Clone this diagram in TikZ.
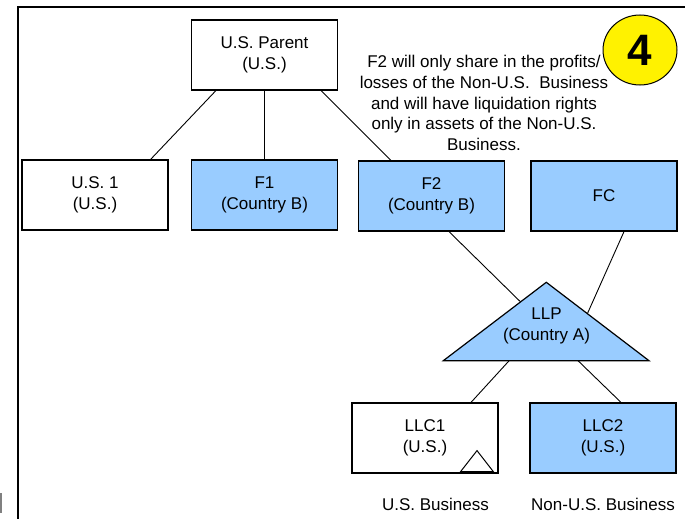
\documentclass[tikz,border=0pt]{standalone}
\usepackage{fontspec}
\setmainfont{Liberation Sans}
\usetikzlibrary{calc,shapes.geometric}
\definecolor{entblue}{RGB}{153,204,255}
\frenchspacing
\begin{document}
\begin{tikzpicture}[x=1pt,y=-1pt,
  ent/.style={draw=black, line width=1.2pt, minimum width=146pt, minimum height=70pt,
    inner sep=0pt, align=center, font=\fontsize{17}{21}\selectfont},
  wbox/.style={ent, fill=white},
  bbox/.style={ent, fill=entblue},
  link/.style={draw=black, line width=0.9pt},
  lbl/.style={inner sep=0pt, align=center, font=\fontsize{17}{21}\selectfont},
]
\useasboundingbox (0,0) rectangle (685,519);
\fill[white] (0,0) rectangle (685,519);

% frame
\draw[line width=2pt, line join=miter] (17.5,530) -- (17.5,7) -- (700,7);
\draw[gray, line width=1.5pt] (1,493) -- (1,513);

% entities
\node[wbox] (par) at (264.5,55) {U.S. Parent\\(U.S.)};
\node[wbox] (us1) at (95,195) {U.S. 1\\(U.S.)};
\node[bbox] (f1) at (264.5,195) {F1\\(Country B)};
\node[bbox] (f2) at (431.5,196) {F2\\(Country B)};
\node[bbox] (fc) at (604,196) {FC};
\node[wbox] (llc1) at (425,438) {LLC1\\(U.S.)};
\node[bbox] (llc2) at (603,438) {LLC2\\(U.S.)};

% LLP triangle
\coordinate (tA) at (546.3,282.3);
\coordinate (tL) at (443.3,360.7);
\coordinate (tR) at (649,360.7);
\draw[line width=1.2pt, fill=entblue, line join=miter] (tA) -- (tL) -- (tR) -- cycle;
\node[lbl] (llp) at (546.5,326) {LLP\\(Country A)};

% connectors
\draw[link] ([xshift=25pt]par.south west) -- ([xshift=-18pt]us1.north east);
\draw[link] (par.south) -- (f1.north);
\draw[link] ([xshift=-17pt]par.south east) -- ([xshift=33pt]f2.north west);
\draw[link] ([xshift=17.5pt]f2.south) -- ($(tA)!0.25!(tL)$);
\draw[link] ([xshift=20pt]fc.south) -- ($(tA)!0.4!(tR)$);
\draw[link] ($(tL)!0.32!(tR)$) -- ([xshift=46pt]llc1.north);
\draw[link] ($(tL)!0.655!(tR)$) -- ([xshift=18pt]llc2.north);

% small triangle in LLC1
\draw[line width=1pt, line join=miter] ([xshift=-5.3pt,yshift=2pt]llc1.south east) -- ++(-32.7,0) -- ++(16.4,-21) -- cycle;

% annotation
\node[lbl, font=\fontsize{17}{20.8}\selectfont] (note) at (484,103)
  {F2 will only share in the profits/\\losses of the Non-U.S.\ \ Business\\and will have liquidation rights\\only in assets of the Non-U.S.\\Business.};

% badge
\node[ellipse, draw=black, line width=1pt, fill=yellow, minimum width=74pt, minimum height=70pt,
  inner sep=0pt, font=\fontsize{44}{44}\selectfont\bfseries] (badge) at (640,50) {4};

% bottom labels
\node[lbl] (lab1) at (435.5,504) {U.S. Business};
\node[lbl] (lab2) at (603,504) {Non-U.S. Business};
\end{tikzpicture}
\end{document}
